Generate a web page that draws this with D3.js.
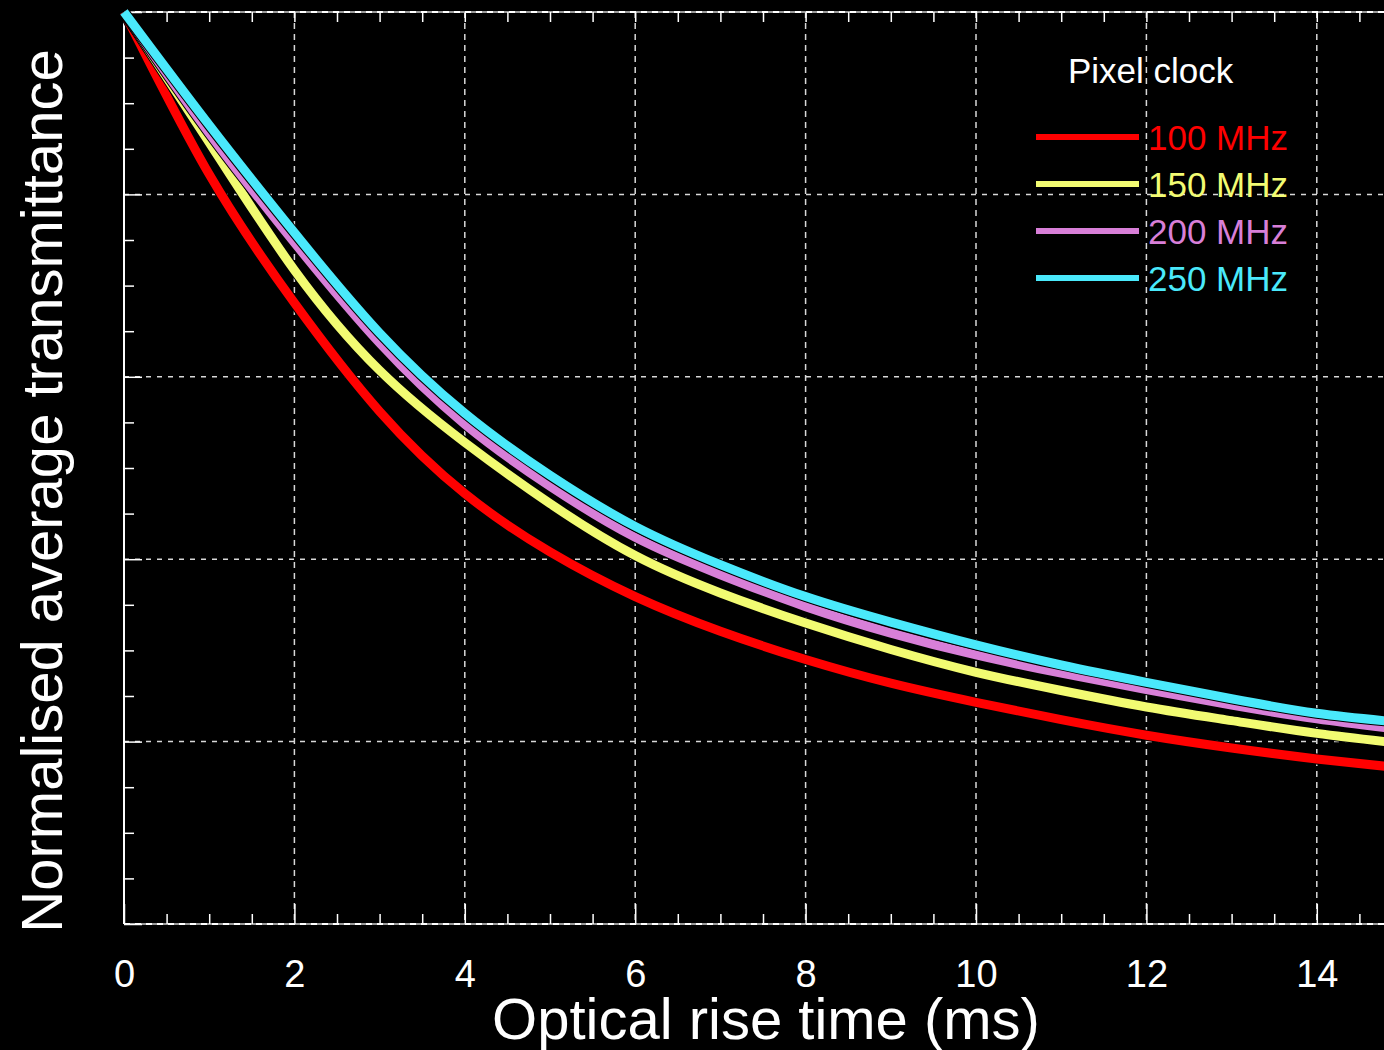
<!DOCTYPE html>
<html>
<head>
<meta charset="utf-8">
<script src="https://cdn.jsdelivr.net/npm/d3@7"></script>
<style>
  html, body { margin: 0; padding: 0; background: #000; overflow: hidden; }
  svg { display: block; }
  text { font-family: "Liberation Sans", Arial, Helvetica, sans-serif; }
</style>
</head>
<body>
<svg id="chart" width="1384" height="1050"></svg>
<script>
// Rise time samples (ms)
const times = [0, 1, 2, 3, 4, 5, 6, 7, 8, 9, 10, 11, 12, 13, 14, 15];

// Normalised average transmittance for each pixel clock
const t100 = [1, 0.822, 0.681, 0.562, 0.472, 0.408, 0.359, 0.321, 0.290, 0.264, 0.243, 0.224, 0.207, 0.193, 0.181, 0.171];
const t150 = [1, 0.857, 0.717, 0.607, 0.528, 0.461, 0.404, 0.363, 0.330, 0.301, 0.276, 0.256, 0.238, 0.223, 0.209, 0.198];
const t200 = [1, 0.867, 0.747, 0.637, 0.548, 0.480, 0.424, 0.383, 0.348, 0.319, 0.295, 0.275, 0.257, 0.240, 0.225, 0.213];
const t250 = [1, 0.876, 0.758, 0.648, 0.560, 0.492, 0.436, 0.394, 0.359, 0.331, 0.306, 0.284, 0.265, 0.247, 0.231, 0.221];

const seriesNames = ["100 MHz", "150 MHz", "200 MHz", "250 MHz"];
const seriesColors = ["#ff0000", "#f2fb72", "#d87fd8", "#4ae9fb"];
const seriesValues = [t100, t150, t200, t250];

const xMajorTicks = [0, 2, 4, 6, 8, 10, 12, 14];
const yMajorTicks = [0, 0.2, 0.4, 0.6, 0.8, 1.0];

const legendTitle = "Pixel clock";
const xTitle = "Optical rise time (ms)";
const yTitle = "Normalised average transmittance";

const svg = d3.select("#chart");
const plotLeft = 124, plotTop = 12, plotBottom = 924, plotRightEdge = 1384;
const x = d3.scaleLinear().domain([0, 15]).range([plotLeft, plotLeft + 15 * 85.2]);
const y = d3.scaleLinear().domain([0, 1]).range([plotBottom, plotTop]);

const gridColor = "#d8d8d8";

// Dashed grid
svg.append("g").selectAll("line")
  .data(xMajorTicks.filter(d => d > 0))
  .join("line")
  .attr("x1", d => x(d)).attr("x2", d => x(d))
  .attr("y1", plotTop).attr("y2", plotBottom)
  .attr("stroke", gridColor).attr("stroke-width", 1.5)
  .attr("stroke-dasharray", "6,5");

svg.append("g").selectAll("line")
  .data(yMajorTicks.filter(d => d > 0 && d < 1))
  .join("line")
  .attr("x1", plotLeft).attr("x2", plotRightEdge)
  .attr("y1", d => y(d)).attr("y2", d => y(d))
  .attr("stroke", gridColor).attr("stroke-width", 1.5)
  .attr("stroke-dasharray", "5,6");

// Bottom and top frame lines
[0, 1].forEach(v => {
  svg.append("line")
    .attr("x1", plotLeft).attr("x2", plotRightEdge)
    .attr("y1", y(v)).attr("y2", y(v))
    .attr("stroke", "#9a9a9a").attr("stroke-width", 2);
  svg.append("line")
    .attr("x1", plotLeft).attr("x2", plotRightEdge)
    .attr("y1", y(v)).attr("y2", y(v))
    .attr("stroke", "#ffffff").attr("stroke-width", 2)
    .attr("stroke-dasharray", "6,5");
});

function styleAxis(g) {
  g.select(".domain").remove();
  g.selectAll(".tick line").attr("stroke", "#ffffff").attr("stroke-width", 1.5);
}

const xMinor = d3.range(0.5, 15, 0.5).filter(d => d % 2 !== 0);
const yMinor = d3.range(0.05, 1, 0.05).filter(d => Math.abs(d * 5 - Math.round(d * 5)) > 1e-6);

// Bottom axis with labels
svg.append("g")
  .attr("transform", `translate(0,${plotBottom})`)
  .call(d3.axisBottom(x).tickValues(xMajorTicks).tickSize(-20).tickPadding(36).tickFormat(d3.format("d")))
  .call(styleAxis)
  .call(g => g.selectAll("text")
    .attr("fill", "#ffffff")
    .attr("font-size", 38)
    .attr("font-family", "'Liberation Sans', Arial, sans-serif"));

svg.append("g")
  .attr("transform", `translate(0,${plotBottom})`)
  .call(d3.axisBottom(x).tickValues(xMinor).tickSize(-10).tickFormat(""))
  .call(styleAxis);

// Top axis ticks
svg.append("g")
  .attr("transform", `translate(0,${plotTop})`)
  .call(d3.axisTop(x).tickValues(xMinor.concat(xMajorTicks)).tickSize(-10).tickFormat(""))
  .call(styleAxis);

// Left axis
svg.append("g")
  .attr("transform", `translate(${plotLeft},0)`)
  .call(d3.axisLeft(y).tickValues(yMajorTicks).tickSize(-18).tickFormat(""))
  .call(styleAxis);
svg.append("g")
  .attr("transform", `translate(${plotLeft},0)`)
  .call(d3.axisLeft(y).tickValues(yMinor).tickSize(-10).tickFormat(""))
  .call(styleAxis);
svg.append("line")
  .attr("x1", plotLeft).attr("x2", plotLeft)
  .attr("y1", plotTop).attr("y2", plotBottom)
  .attr("stroke", "#ffffff").attr("stroke-width", 2);

// Curves (natural cubic spline through the samples)
const line = d3.line()
  .x((d, i) => x(times[i]))
  .y(d => y(d))
  .curve(d3.curveNatural);

const curves = svg.append("g");
seriesValues.forEach((vals, k) => {
  curves.append("path")
    .attr("d", line(vals))
    .attr("fill", "none")
    .attr("stroke", "#000")
    .attr("stroke-width", 11)
    .attr("stroke-linejoin", "round");
  curves.append("path")
    .attr("d", line(vals))
    .attr("fill", "none")
    .attr("stroke", seriesColors[k])
    .attr("stroke-width", 9)
    .attr("stroke-linejoin", "round");
});

// Legend
const legend = svg.append("g");
legend.append("text")
  .attr("x", 1068).attr("y", 83)
  .attr("fill", "#ffffff")
  .attr("font-size", 35)
  .text(legendTitle);

const legendRows = [137, 184, 231, 278];
seriesNames.forEach((name, k) => {
  legend.append("line")
    .attr("x1", 1036).attr("x2", 1139)
    .attr("y1", legendRows[k]).attr("y2", legendRows[k])
    .attr("stroke", seriesColors[k]).attr("stroke-width", 6);
  legend.append("text")
    .attr("x", 1148).attr("y", legendRows[k] + 13)
    .attr("fill", seriesColors[k])
    .attr("font-size", 35)
    .text(name);
});

// Axis titles
svg.append("text")
  .attr("x", 766).attr("y", 1039)
  .attr("text-anchor", "middle")
  .attr("fill", "#ffffff")
  .attr("font-size", 58)
  .text(xTitle);

svg.append("text")
  .attr("transform", "translate(62,491) rotate(-90)")
  .attr("text-anchor", "middle")
  .attr("fill", "#ffffff")
  .attr("font-size", 58)
  .text(yTitle);
</script>
</body>
</html>
